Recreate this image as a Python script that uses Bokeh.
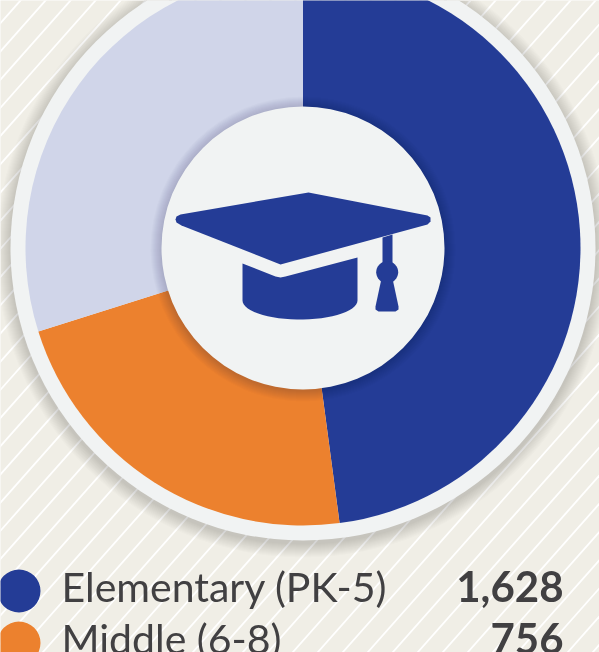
from math import pi
import numpy as np
from bokeh.plotting import figure
from bokeh.embed import file_html
from bokeh.resources import INLINE
from bokeh.core.properties import value

categories = ["Elementary (PK-5)", "Middle (6-8)", "High (9-12)"]
counts = [1628, 756, 1015]
count_labels = ["1,628", "756", "1,015"]
colors = ["#243c96", "#ec812e", "#d0d5e9"]

W, H = 599, 652
BG, RING, INK = "#f0eee6", "#f1f3f3", "#414042"

def Y(py):
    return H - np.asarray(py, dtype=float)

p = figure(width=W, height=H, x_range=(0, W), y_range=(0, H), toolbar_location=None,
           output_backend="svg", min_border=0, background_fill_color=BG,
           border_fill_color=BG, styles={"position": "fixed", "left": "0px", "top": "0px"})
p.axis.visible = False
p.grid.visible = False
p.outline_line_color = None

# diagonal hatch of the background
xs, ys = [], []
for x0 in np.arange(-733, 1000, 25):
    xs.append([x0, x0 + 700])
    ys.append([0, 700 * 1.128])
p.multi_line(xs, ys, line_color="white", line_width=1.8)

cx, cy = 302.5, Y(247.5)
R_RING, R_PIE, R_HOLE = 292.5, 277.5, 141.5

# soft shadows
for i in range(14, 0, -1):
    p.circle(cx, cy - 3, radius=R_RING + i, fill_color="#55534c", fill_alpha=0.016, line_color=None)
p.circle(cx, cy, radius=R_RING, fill_color=RING, line_color=None)

# pie
total = sum(counts)
edges = [pi / 2]
for c in counts:
    edges.append(edges[-1] - 2 * pi * c / total)
for i in range(len(counts)):
    p.wedge(cx, cy, radius=R_PIE, start_angle=edges[i], end_angle=edges[i + 1],
            direction="clock", fill_color=colors[i], line_color=None)

for i in range(11, 0, -1):
    p.circle(cx, cy - 1, radius=R_HOLE + i, fill_color="#1c1c30", fill_alpha=0.016, line_color=None)
p.circle(cx, cy, radius=R_HOLE, fill_color=RING, line_color=None)

# mortarboard icon
HAT = colors[0]
board_x = [308, 427, 430, 430, 427, 280, 181, 176, 175, 176, 180]
board_y = [192, 215, 217, 221, 224, 264, 225, 222, 219, 216, 214]
p.patch(board_x, Y(board_y), fill_color=HAT, line_color=None)

t = np.linspace(0, pi, 30)
cap_x = [242, 275, 280, 285, 357] + list(299.5 + 57.5 * np.cos(t))
cap_y = [263, 276, 277, 276, 257] + list(300 + 19 * np.sin(t))
p.patch(cap_x, Y(cap_y), fill_color=HAT, line_color=None)

stem_x = [382, 392, 392, 382]
stem_y = [237, 234, 266, 266]
p.patch(stem_x, Y(stem_y), fill_color=HAT, line_color=None)
p.circle(386.7, Y(271.7), radius=11, fill_color=HAT, line_color=None)
tassel_x = [381, 392, 398, 398, 395, 378, 375, 375]
tassel_y = [278, 278, 306, 309, 311, 311, 309, 306]
p.patch(tassel_x, Y(tassel_y), fill_color=HAT, line_color=None)

# legend rows
row_circle_y = [590.5, 642.5]
row_base_y = [586, 638]
p.circle([18.5, 18.5], Y(row_circle_y), radius=21.5, fill_color=colors[:2], line_color=None)
p.text([61, 61], Y(row_base_y), text=categories[:2], text_font=value("Lato"),
       text_font_size="41px", text_color=INK, text_baseline="alphabetic", text_align="left")
p.text([563, 563], Y(row_base_y), text=count_labels[:2], text_font=value("Lato"),
       text_font_size="42px", text_font_style="bold", text_color=INK,
       text_baseline="alphabetic", text_align="right")

open("out.html", "w").write(file_html(p, INLINE))
